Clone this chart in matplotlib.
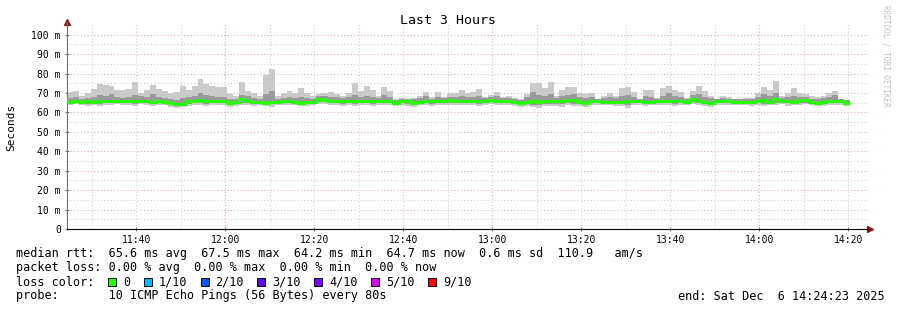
import matplotlib
matplotlib.use("Agg")
import matplotlib.pyplot as plt
from matplotlib.patches import Rectangle
import numpy as np

# --- data (ms), one value per 80 s step starting 11:24:23 ---
hi = [70.5, 70.8, 68.5, 70.0, 72.0, 74.7, 74.2, 73.4, 71.6, 71.6, 71.8, 75.4, 70.0, 71.3, 74.2, 72.0, 70.8, 70.0, 70.3, 73.4, 71.6, 73.4, 77.3,
      74.7, 73.4, 72.9, 72.9, 69.4, 68.3, 75.4, 71.1, 70.0, 68.3, 79.4, 82.5, 68.3, 70.0, 71.1, 70.0, 72.5, 70.0, 68.6, 69.4, 70.0, 70.3,
      69.6, 68.3, 70.2, 75.1, 71.1, 73.7, 71.6, 68.6, 73.2, 71.1, 66.8, 67.4, 66.8, 67.4, 68.6, 70.3, 68.0, 70.3, 68.0, 70.0, 70.0, 71.6,
      70.0, 70.3, 72.1, 68.0, 69.1, 70.5, 68.0, 68.6, 67.4, 66.8, 69.6, 75.1, 75.1, 72.5, 75.6, 68.6, 71.6, 72.9, 72.9, 70.0, 69.4, 70.0, 66.8,
      68.6, 70.0, 68.6, 72.5, 73.2, 70.5, 66.8, 71.6, 71.6, 67.4, 72.5, 73.7, 71.6, 70.3, 67.4, 70.8, 73.7, 71.1, 68.3, 67.0, 68.3, 67.8,
      66.8, 66.8, 67.4, 67.4, 70.0, 73.2, 71.6, 76.4, 68.3, 70.0, 72.5, 70.0, 69.4, 68.3, 68.0, 68.6, 70.0, 71.1, 66.8, 66.5]

hi2 = [67.5, 68.0, 67.0, 67.5, 68.0, 69.0, 68.5, 69.5, 68.0, 67.5, 68.0, 69.0, 68.5, 68.0, 69.5, 68.0, 67.5, 67.0, 66.5, 67.5, 68.0, 68.5, 70.0,
       69.0, 68.5, 68.0, 68.0, 67.0, 67.0, 69.0, 68.5, 67.5, 67.0, 69.5, 71.0, 67.0, 67.5, 68.0, 67.5, 68.0, 67.5, 67.0, 68.5, 68.5, 68.0,
       68.0, 67.5, 68.0, 69.0, 68.0, 68.5, 68.0, 67.5, 69.0, 68.0, 66.5, 67.0, 66.8, 67.0, 67.5, 68.5, 67.0, 68.0, 67.5, 68.0, 68.0, 68.5,
       68.0, 68.0, 68.5, 67.5, 68.0, 68.5, 67.5, 67.5, 67.0, 66.5, 68.0, 70.5, 69.0, 68.5, 69.5, 67.5, 68.5, 69.0, 69.5, 68.0, 67.5, 68.0, 67.0,
       67.5, 68.0, 67.5, 68.5, 69.0, 68.0, 66.8, 68.5, 68.0, 67.0, 68.5, 70.0, 68.5, 68.0, 67.0, 69.0, 69.5, 68.0, 67.5, 66.8, 67.5, 67.0,
       66.8, 66.8, 67.0, 67.0, 68.0, 69.5, 68.5, 70.0, 67.5, 68.0, 68.5, 68.0, 68.0, 67.0, 67.0, 67.5, 68.0, 69.0, 66.8, 66.5]

lo = [64.0, 64.3, 63.8, 63.5, 64.0, 63.2, 64.0, 63.8, 64.2, 64.0, 63.8, 63.5, 64.2, 63.8, 63.5, 64.0, 63.8, 63.0, 62.5, 62.8, 63.5, 64.0, 63.8,
      63.5, 64.0, 63.8, 64.0, 63.0, 63.5, 64.0, 63.8, 63.5, 64.0, 63.2, 63.0, 64.0, 63.8, 64.0, 63.8, 63.2, 63.5, 63.8, 64.5, 64.3, 63.8,
      64.0, 63.5, 64.0, 63.5, 63.8, 64.0, 63.5, 64.0, 63.8, 64.0, 63.2, 63.8, 63.5, 63.0, 63.8, 64.0, 63.5, 63.8, 64.0, 64.0, 63.8, 64.0,
      64.0, 63.8, 63.5, 64.0, 64.2, 64.0, 63.8, 64.0, 63.5, 63.0, 63.5, 62.8, 62.5, 63.2, 63.5, 63.5, 63.0, 63.8, 63.5, 63.2, 63.0, 63.8, 64.0,
      63.8, 64.0, 63.5, 63.2, 62.5, 63.8, 64.0, 63.5, 63.8, 64.0, 63.8, 64.0, 63.5, 63.8, 64.0, 64.5, 63.8, 63.5, 63.0, 63.8, 64.0, 63.8,
      64.0, 63.8, 64.0, 63.5, 63.8, 63.5, 63.8, 64.0, 64.2, 63.5, 63.8, 64.0, 64.2, 63.8, 63.5, 63.5, 64.0, 63.8, 64.0, 63.5]

lo2 = [64.8, 65.0, 64.5, 64.5, 64.8, 64.3, 64.8, 64.8, 65.0, 64.8, 64.8, 64.5, 65.0, 64.8, 64.5, 64.8, 64.5, 63.8, 63.5, 63.5, 64.5, 64.8, 64.8,
       64.5, 64.8, 64.8, 64.8, 64.0, 64.3, 65.0, 64.8, 64.5, 64.8, 64.2, 64.2, 64.8, 64.8, 65.0, 64.5, 64.2, 64.5, 64.5, 65.5, 65.3, 64.8,
       65.0, 64.5, 65.0, 64.5, 64.8, 64.8, 64.5, 65.0, 64.8, 64.8, 64.2, 64.8, 64.5, 64.0, 64.5, 65.0, 64.5, 64.8, 64.8, 65.0, 64.8, 64.8,
       65.0, 64.8, 64.5, 65.0, 65.2, 65.0, 64.8, 64.8, 64.5, 63.8, 64.3, 64.0, 63.8, 64.3, 64.5, 64.5, 64.3, 64.8, 64.5, 64.2, 64.0, 64.8, 64.8,
       64.5, 64.8, 64.5, 64.2, 63.8, 64.8, 64.8, 64.5, 64.5, 64.8, 64.8, 65.0, 64.5, 64.8, 64.8, 65.3, 64.8, 64.3, 64.0, 64.8, 64.8, 64.8,
       64.8, 64.5, 64.8, 64.5, 64.8, 64.5, 64.5, 65.0, 65.0, 64.8, 64.5, 65.0, 65.0, 64.5, 64.3, 64.5, 64.8, 64.8, 65.0, 64.3]

median = [65.5, 66.0, 65.5, 65.8, 65.5, 65.8, 65.8, 66.1, 66.1, 66.1, 66.1, 65.8, 66.1, 65.8, 65.5, 65.8, 65.5, 64.8, 64.3, 64.3, 65.8, 66.1, 66.4,
          65.8, 65.9, 65.8, 65.8, 65.1, 65.3, 67.1, 65.8, 65.5, 65.5, 65.1, 65.5, 65.5, 65.8, 66.1, 65.5, 65.1, 65.5, 65.5, 66.8, 66.5, 65.9,
          66.1, 65.8, 66.1, 65.8, 65.8, 65.8, 65.8, 66.1, 66.1, 65.8, 65.1, 65.8, 65.8, 65.1, 65.5, 66.1, 65.8, 65.8, 65.8, 66.5, 66.1, 65.8,
          66.1, 66.1, 65.8, 66.1, 66.5, 66.1, 66.1, 65.8, 65.5, 64.8, 65.5, 66.1, 65.5, 65.8, 66.1, 65.8, 66.1, 66.5, 66.5, 65.5, 65.1, 65.8, 65.8,
          65.5, 65.5, 65.5, 65.3, 65.8, 65.8, 65.8, 65.5, 65.5, 65.8, 66.1, 66.1, 65.8, 65.8, 65.5, 66.8, 66.1, 65.3, 65.1, 65.8, 65.8, 65.8,
          65.6, 65.5, 65.5, 65.5, 65.9, 66.5, 65.5, 66.8, 66.1, 66.1, 65.5, 66.5, 66.6, 65.5, 65.1, 65.5, 65.8, 65.8, 66.1, 65.0]

time_labels = ["11:40", "12:00", "12:20", "12:40", "13:00", "13:20", "13:40", "14:00", "14:20"]
loss_labels = ["0", "1/10", "2/10", "3/10", "4/10", "5/10", "9/10"]
loss_colors = ["#26ff00", "#00b8ff", "#0059ff", "#5e00ff", "#7e00ff", "#dd00ff", "#ff0000"]

legend_rtt = "median rtt:  65.6 ms avg  67.5 ms max  64.2 ms min  64.7 ms now  0.6 ms sd  110.9   am/s"
legend_loss = "packet loss: 0.00 % avg  0.00 % max  0.00 % min  0.00 % now"
legend_probe = "probe:       10 ICMP Echo Pings (56 Bytes) every 80s"
legend_end = "end: Sat Dec  6 14:24:23 2025"

MONO = "DejaVu Sans Mono"
t0 = 11 * 60 + 24 + 23 / 60.0   # minutes of day
edges = t0 + np.arange(len(median) + 1) * 80 / 60.0

fig = plt.figure(figsize=(8.97, 3.10), dpi=100)
W, H = 897, 310
ax = fig.add_axes([67 / W, (H - 229) / H, (868 - 67) / W, (229 - 24) / H])

ax.set_xlim(t0, t0 + 180)
ax.set_ylim(0, 105.5)

# grid, rrdtool style
for v in range(5, 105, 10):
    ax.axhline(v, color="#d0d0d0", lw=0.8, ls=(0, (1, 2)), zorder=0)
for v in range(10, 101, 10):
    ax.axhline(v, color="#eeaaaa", lw=0.8, ls=(0, (1, 2)), zorder=0)
for m in range(690, 870, 10):
    if m % 60 == 0:
        ax.axvline(m, color="#eeaaaa", lw=0.8, ls=(0, (1, 2)), zorder=0)
    else:
        ax.axvline(m, color="#d0d0d0", lw=0.8, ls=(0, (1, 2)), zorder=0)

# smoke
ax.stairs(hi, edges, baseline=lo, fill=True, color="#cacaca", lw=0, zorder=2)
ax.stairs(hi2, edges, baseline=lo2, fill=True, color="#9a9a9a", lw=0, zorder=3)
ax.stairs(median, edges, baseline=None, color=loss_colors[0], lw=2.2, zorder=5)

# axes
for s in ["top", "right"]:
    ax.spines[s].set_visible(False)
ax.spines["left"].set_color("#707070")
ax.spines["bottom"].set_color("black")
ax.spines["left"].set_bounds(0, 106.5)
ax.plot([0], [1.01], marker="^", color="#8b1a1a", ms=4, transform=ax.transAxes, clip_on=False)
ax.plot([1.003], [0], marker=">", color="#8b1a1a", ms=4, transform=ax.transAxes, clip_on=False)

ax.set_yticks(range(0, 101, 10))
ax.set_yticklabels(["0"] + [f"{v} m" for v in range(10, 101, 10)], fontsize=7, family=MONO)
label_pos = [11 * 60 + 40 + 20 * i for i in range(len(time_labels))]
ax.set_xticks(label_pos)
ax.set_xticklabels(time_labels, fontsize=7, family=MONO)
ax.tick_params(axis="both", length=3, width=0.8, direction="inout", color="#707070", pad=3)

fig.text(11 / W, 1 - 127 / H, "Seconds", rotation=90, ha="center", va="center",
         fontsize=8, family=MONO)
fig.text(448 / W, 1 - 20 / H, "Last 3 Hours", ha="center", va="center", fontsize=9.5, family=MONO)
fig.text(886 / W, 1 - 5 / H, "RRDTOOL / TOBI OETIKER", rotation=270, ha="center", va="top",
         fontsize=5.5, family=MONO, color="#c0c0c0")

# legend block
cw = 7.1
fs = 8.5
fig.text(16 / W, 1 - 254 / H, legend_rtt, ha="left", va="center", fontsize=fs, family=MONO)
fig.text(16 / W, 1 - 268 / H, legend_loss, ha="left", va="center", fontsize=fs, family=MONO)
fig.text(16 / W, 1 - 282 / H, "loss color:", ha="left", va="center", fontsize=fs, family=MONO)
x = 16 + 13 * cw
for lab, col in zip(loss_labels, loss_colors):
    fig.patches.append(Rectangle((x / W, 1 - 286 / H), 8 / W, 8 / H, transform=fig.transFigure,
                                 facecolor=col, edgecolor="black", lw=0.7))
    fig.text((x + 15) / W, 1 - 282 / H, lab, ha="left", va="center", fontsize=fs, family=MONO)
    x += (len(lab) + 4) * cw
fig.text(16 / W, 1 - 296 / H, legend_probe, ha="left", va="center", fontsize=fs, family=MONO)
fig.text(678 / W, 1 - 296 / H, legend_end, ha="left", va="center", fontsize=fs, family=MONO)

fig.savefig("out.png", dpi=100)
